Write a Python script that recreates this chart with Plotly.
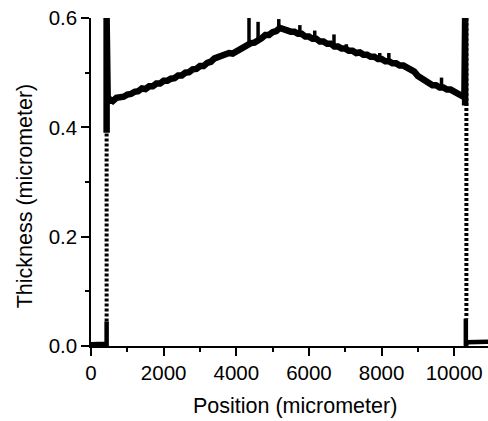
import numpy as np
import plotly.graph_objects as go

# Main thickness profile
pos = [500, 600, 700, 800, 900, 1000, 1100, 1200, 1300, 1400, 1500, 1600, 1700, 1800, 1900,
       2000, 2100, 2200, 2300, 2400, 2500, 2600, 2700, 2800, 2900, 3000, 3100, 3200, 3300,
       3400, 3500, 3600, 3700, 3800, 3900, 4000, 4100, 4200, 4300, 4400, 4500, 4600, 4700,
       4800, 4900, 5000, 5100, 5200, 5300, 5400, 5500, 5600, 5700, 5800, 5900, 6000, 6100,
       6200, 6300, 6400, 6500, 6600, 6700, 6800, 6900, 7000, 7100, 7200, 7300, 7400, 7500,
       7600, 7700, 7800, 7900, 8000, 8100, 8200, 8300, 8400, 8500, 8600, 8700, 8800, 8900,
       9000, 9100, 9200, 9300, 9400, 9500, 9600, 9700, 9800, 9900, 10000, 10100, 10200, 10280]
thick = [0.452, 0.448, 0.454, 0.455, 0.456, 0.460, 0.461, 0.465, 0.466, 0.471, 0.470, 0.475,
         0.475, 0.480, 0.480, 0.485, 0.485, 0.489, 0.490, 0.495, 0.495, 0.500, 0.501, 0.506,
         0.507, 0.512, 0.512, 0.518, 0.520, 0.526, 0.528, 0.533, 0.532, 0.536, 0.535, 0.539,
         0.540, 0.546, 0.548, 0.554, 0.555, 0.561, 0.563, 0.569, 0.569, 0.574, 0.576, 0.582,
         0.579, 0.579, 0.575, 0.575, 0.571, 0.571, 0.566, 0.566, 0.562, 0.562, 0.557, 0.557,
         0.553, 0.553, 0.548, 0.548, 0.544, 0.544, 0.540, 0.540, 0.536, 0.537, 0.533, 0.533,
         0.529, 0.529, 0.525, 0.525, 0.521, 0.521, 0.517, 0.517, 0.513, 0.513, 0.509, 0.508,
         0.502, 0.494, 0.490, 0.484, 0.482, 0.477, 0.477, 0.473, 0.473, 0.469, 0.469, 0.465,
         0.464, 0.459, 0.455]

# Narrow spikes on the profile
spike_pos = [4350, 4600, 5170, 5750, 6160, 6690, 7030, 7950, 8200, 9650]
spike_top = [0.600, 0.593, 0.598, 0.587, 0.577, 0.570, 0.552, 0.536, 0.536, 0.491]

# Left edge
left_bottom_pos = [0, 200, 380, 430, 430]
left_bottom_thick = [0.003, 0.003, 0.004, 0.004, 0.045]
left_edge_pos = 430
left_dot_range = [0.045, 0.6]
left_spike = [0.39, 0.6]

# Right edge
right_edge_pos = 10300
right_spike = [0.45, 0.6]
right_dot_pos = 10335
right_dot_range = [0.6, 0.05]
right_bottom_pos = [10320, 10320, 10360, 10500, 10700, 10930]
right_bottom_thick = [0.05, 0.0, 0.007, 0.007, 0.007, 0.008]

BLACK = "black"
fig = go.Figure()

# dotted edges
fig.add_trace(go.Scatter(x=[left_edge_pos, left_edge_pos], y=left_dot_range, mode="lines",
                         line=dict(color=BLACK, width=4, dash="3px,2px"), showlegend=False))
fig.add_trace(go.Scatter(x=[right_dot_pos, right_dot_pos], y=right_dot_range, mode="lines",
                         line=dict(color=BLACK, width=4, dash="3px,2px"), showlegend=False))

# bottom pieces
fig.add_trace(go.Scatter(x=left_bottom_pos, y=left_bottom_thick, mode="lines",
                         line=dict(color=BLACK, width=4.5), showlegend=False))
fig.add_trace(go.Scatter(x=right_bottom_pos, y=right_bottom_thick, mode="lines",
                         line=dict(color=BLACK, width=4.5), showlegend=False))

# main profile with edge spikes
main_x = [left_edge_pos, left_edge_pos, left_edge_pos + 30, left_edge_pos + 30] + pos + [right_edge_pos, right_edge_pos]
main_y = [left_spike[0], left_spike[1], left_spike[1], thick[0]] + thick + [right_spike[1], right_spike[0] - 0.01]
fig.add_trace(go.Scatter(x=main_x, y=main_y, mode="lines",
                         line=dict(color=BLACK, width=6.5), showlegend=False))

# narrow spikes
sx, sy = [], []
for p, t in zip(spike_pos, spike_top):
    base = float(np.interp(p, pos, thick))
    sx += [p, p, None]
    sy += [base, t, None]
fig.add_trace(go.Scatter(x=sx, y=sy, mode="lines",
                         line=dict(color=BLACK, width=3.5), showlegend=False))

FONT = "Liberation Sans, Arial, sans-serif"
fig.update_layout(
    width=488, height=421,
    margin=dict(l=91, r=0, t=18, b=75),
    paper_bgcolor="white", plot_bgcolor="white",
    font=dict(family=FONT, size=20.5, color=BLACK),
    showlegend=False,
    xaxis=dict(range=[0, 10930], showline=True, linecolor=BLACK, linewidth=1.5,
               showgrid=False, zeroline=False, ticks="outside", ticklen=8, tickwidth=1.5,
               tickcolor=BLACK, dtick=2000, tick0=0, tickformat="d",
               minor=dict(dtick=1000, tick0=0, ticks="outside", ticklen=4, tickwidth=1.5,
                          tickcolor=BLACK, showgrid=False)),
    yaxis=dict(range=[0, 0.6], showline=True, linecolor=BLACK, linewidth=1.5,
               showgrid=False, zeroline=False, ticks="outside", ticklen=8, tickwidth=1.5,
               tickcolor=BLACK, dtick=0.2, tick0=0, tickformat=".1f",
               minor=dict(dtick=0.1, tick0=0, ticks="outside", ticklen=4, tickwidth=1.5,
                          tickcolor=BLACK, showgrid=False)),
    annotations=[
        dict(text="Thickness (micrometer)", textangle=-90, xref="paper", yref="paper",
             x=-0.164, y=0.459, xanchor="center", yanchor="middle", showarrow=False,
             font=dict(family=FONT, size=21.5, color=BLACK)),
        dict(text="Position (micrometer)", xref="paper", yref="paper",
             x=0.514, y=-0.183, xanchor="center", yanchor="middle", showarrow=False,
             font=dict(family=FONT, size=21.5, color=BLACK)),
    ],
)

fig.write_html("out.html", config={"displayModeBar": False},
               post_script="document.body.style.margin='0';document.body.style.overflow='hidden';")
